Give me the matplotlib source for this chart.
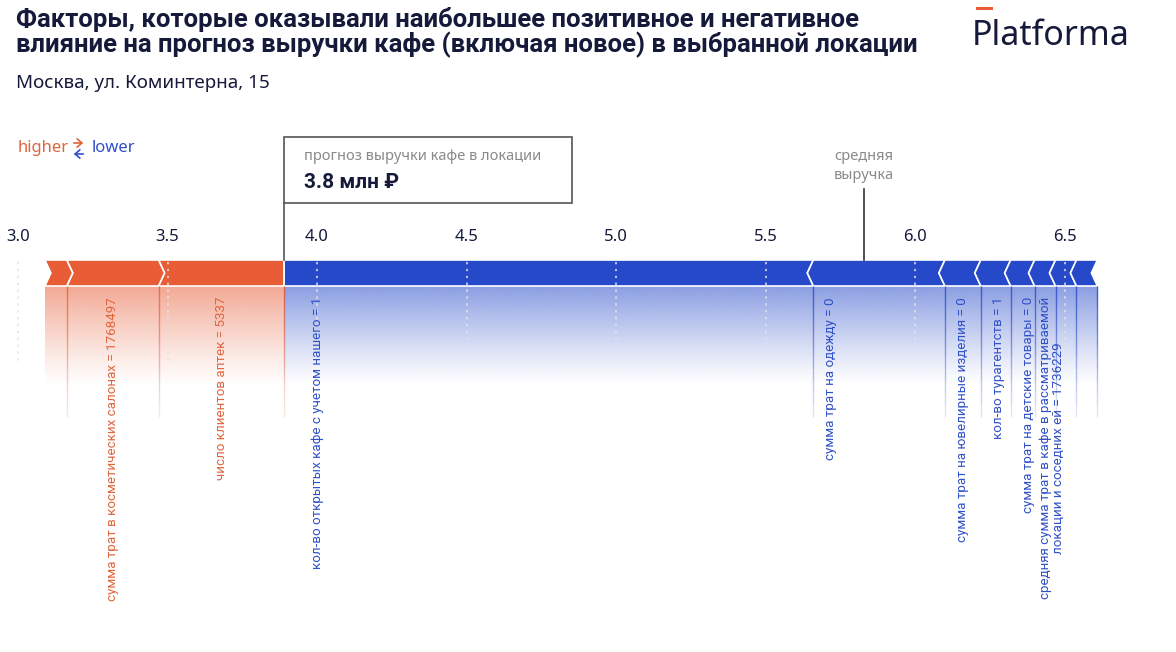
import numpy as np
import matplotlib.pyplot as plt
from matplotlib.patches import Polygon, Rectangle, FancyArrowPatch
from matplotlib.collections import LineCollection
from matplotlib.colors import to_rgb

W, H = 1176, 652

# --- data -----------------------------------------------------------------
base_value = 5.83           # средняя выручка
pos_names = [
    "число клиентов аптек = 5337",
    "сумма трат в косметических салонах = 1768497",
    "",
]
pos_effects = [0.42, 0.307, 0.073]
neg_names = [
    "кол-во открытых кафе с учетом нашего = 1",
    "сумма трат на одежду = 0",
    "сумма трат на ювелирные изделия = 0",
    "кол-во турагентств = 1",
    "сумма трат на детские товары = 0",
    "средняя сумма трат в кафе в рассматриваемой\nлокации и соседних ей = 1736229",
    "",
    "",
]
neg_effects = [1.77, 0.44, 0.12, 0.10, 0.08, 0.07, 0.07, 0.07]
ticks = [3.0, 3.5, 4.0, 4.5, 5.0, 5.5, 6.0, 6.5]

forecast = 3.89
forecast_text = "3.8 млн ₽"

RED = "#e85d36"
BLUE = "#2549c9"
RED_TXT = "#e0643c"
BLUE_TXT = "#2f50c8"
NAVY = "#15193a"
GRAY = "#8a8a8a"

plt.rcParams['font.family'] = ['Noto Sans', 'DejaVu Sans']
BOLD = ['Roboto', 'DejaVu Sans']
LBL = ['Roboto', 'DejaVu Sans']

fig = plt.figure(figsize=(W / 100, H / 100), dpi=100)
ax = fig.add_axes([0, 0, 1, 1])
# x in value units (299 px per unit, 3.0 at x=18px), y in pixels
ppu = 299.0
xlim = (3.0 - 18 / ppu, 3.0 + (W - 18) / ppu)
ax.axis('off')


def fx(x, y):
    return x / W, 1 - y / H


top, bot, mid = 260, 286, 273
d = 6 / ppu

# red part: from forecast leftwards
red_bounds = [forecast]
for e in pos_effects:
    red_bounds.append(red_bounds[-1] - e)
# blue part: from forecast rightwards
blue_bounds = [forecast]
for e in neg_effects:
    blue_bounds.append(blue_bounds[-1] + e)

# red segments (arrows point right)
for i in range(len(pos_effects)):
    b, a = red_bounds[i], red_bounds[i + 1]
    pts = [(a, top), (b, top)]
    if i > 0:
        pts.append((b + d, mid))
    pts += [(b, bot), (a, bot), (a + d, mid)]
    ax.add_patch(Polygon(pts, closed=True, facecolor=RED, edgecolor='white', lw=1.2))

# blue segments (arrows point left)
for i in range(len(neg_effects)):
    a, b = blue_bounds[i], blue_bounds[i + 1]
    pts = [(a, top), (b, top), (b - d, mid), (b, bot), (a, bot)]
    if i > 0:
        pts.append((a - d, mid))
    ax.add_patch(Polygon(pts, closed=True, facecolor=BLUE, edgecolor='white', lw=1.2))


def gradient(color, x0, x1):
    rgb = np.array(to_rgb(color))
    n = 100
    img = np.zeros((n, 1, 4))
    img[:, 0, :3] = rgb
    img[:, 0, 3] = np.linspace(0.58, 0.0, n) ** 1.15
    ax.imshow(img, extent=(x0, x1, 386, bot), aspect='auto', interpolation='bilinear', zorder=0)


gradient(RED, red_bounds[-1], forecast)
gradient(BLUE, forecast, blue_bounds[-1])
ax.set_xlim(*xlim)
ax.set_ylim(H, 0)


def fade_lines(xs, color):
    ys = np.linspace(bot, 417, 12)
    segs, cols = [], []
    rgb = to_rgb(color)
    for x in xs:
        for k in range(len(ys) - 1):
            segs.append([(x, ys[k]), (x, ys[k + 1])])
            cols.append((*rgb, 0.8 - 0.65 * k / (len(ys) - 2)))
    ax.add_collection(LineCollection(segs, colors=cols, lw=1.0, zorder=1))


fade_lines(red_bounds[1:-1] + [forecast], RED)
fade_lines(blue_bounds[1:], BLUE)

# dotted grid
for t in ticks:
    ax.plot([t, t], [262, 364], color='#e4e4e4', lw=1.1, ls=(0, (1.5, 3)), zorder=3)
    ax.text(t, 237, f"{t:.1f}", ha='center', va='center', fontsize=12, color=NAVY)

# feature labels
for i, name in enumerate(pos_names):
    if name:
        c = (red_bounds[i] + red_bounds[i + 1]) / 2
        ax.text(c, 297, name, rotation=90, ha='center', va='top', fontsize=9.6,
                color=RED_TXT, family=LBL)
for i, name in enumerate(neg_names):
    if name:
        x = blue_bounds[i] + 0.058
        if i == 0:
            x = blue_bounds[i] + 0.11
        ax.text(x, 297, name, rotation=90, ha='center', va='top', fontsize=9.6,
                color=BLUE_TXT, family=LBL, multialignment='center', linespacing=0.95)

# forecast box and line
ax.plot([forecast, forecast], [203, top], color='#555555', lw=1.2)
bx0 = forecast
bx1 = forecast + (572 - 284) / ppu
ax.add_patch(Rectangle((bx0, 137), bx1 - bx0, 66, facecolor='white', edgecolor='#555555', lw=1.2))
ax.text(bx0 + 20 / ppu, 157, "прогноз выручки кафе в локации", ha='left', va='center',
        fontsize=10.5, color=GRAY)
ax.text(bx0 + 20 / ppu, 183, forecast_text, ha='left', va='center', fontsize=15,
        fontweight='bold', color=NAVY, family=BOLD)

# average line
ax.plot([base_value, base_value], [189, top], color='#333333', lw=1.2)
ax.text(base_value, 166, "средняя\nвыручка", ha='center', va='center', fontsize=10.5,
        color=GRAY, linespacing=1.3)

# header
fig.text(*fx(16, 7), "Факторы, которые оказывали наибольшее позитивное и негативное\n"
         "влияние на прогноз выручки кафе (включая новое) в выбранной локации",
         ha='left', va='top', fontsize=18.5, fontweight='bold', color=NAVY, linespacing=1.0,
         family=BOLD)
fig.text(*fx(16, 83), "Москва, ул. Коминтерна, 15", ha='left', va='center', fontsize=13.5,
         color=NAVY)

# logo
fig.patches.append(Rectangle(fx(976, 10), 17 / W, 3 / H, transform=fig.transFigure,
                             facecolor=RED, edgecolor='none'))
fig.text(*fx(972, 36), "Platforma", ha='left', va='center', fontsize=24.5, color=NAVY)

# legend
fig.text(*fx(18, 148), "higher", ha='left', va='center', fontsize=12, color=RED_TXT)
fig.add_artist(FancyArrowPatch(fx(71, 143), fx(86, 143), transform=fig.transFigure,
                               arrowstyle='->,head_length=3.5,head_width=3', color=RED_TXT, lw=1.2))
fig.add_artist(FancyArrowPatch(fx(86, 154), fx(71, 154), transform=fig.transFigure,
                               arrowstyle='->,head_length=3.5,head_width=3', color=BLUE_TXT, lw=1.2))
fig.text(*fx(92, 148), "lower", ha='left', va='center', fontsize=12, color=BLUE_TXT)

fig.savefig("out.png", dpi=100)
